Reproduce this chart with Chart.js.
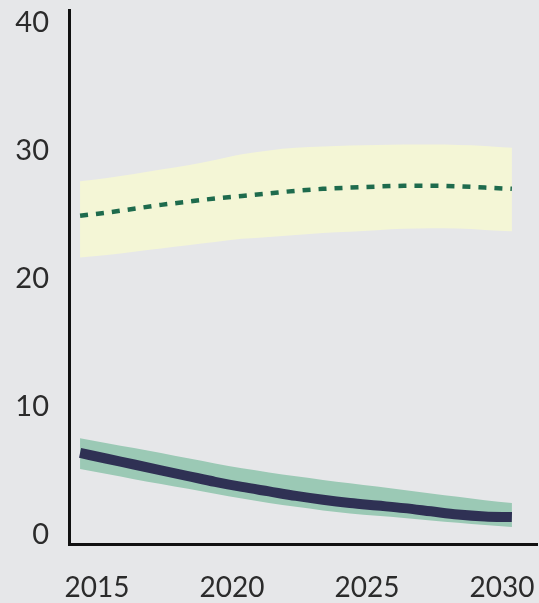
<!DOCTYPE html>
<html>
<head>
<meta charset="utf-8">
<script src="https://cdn.jsdelivr.net/npm/chart.js@4.4.1/dist/chart.umd.min.js"></script>
<style>
  html, body { margin: 0; padding: 0; background: #e6e7e9; }
  #wrap { width: 539px; height: 603px; }
</style>
</head>
<body>
<div id="wrap"><canvas id="c" width="539" height="603"></canvas></div>
<script>
// Years covered by the projection
const years = [2014, 2015, 2016, 2017, 2018, 2019, 2020, 2021, 2022,
               2023, 2024, 2025, 2026, 2027, 2028, 2029, 2030];

// Upper series: central estimate with its uncertainty range
const upperCentral = [24.9, 25.15, 25.45, 25.75, 26.0, 26.25, 26.45, 26.65, 26.85,
                      27.0, 27.1, 27.18, 27.24, 27.25, 27.2, 27.1, 27.0];
const upperHigh = [27.6, 27.85, 28.15, 28.5, 28.85, 29.25, 29.7, 30.0, 30.2,
                   30.3, 30.38, 30.42, 30.45, 30.45, 30.42, 30.35, 30.2];
const upperLow = [21.65, 21.85, 22.1, 22.35, 22.6, 22.85, 23.1, 23.25, 23.4,
                  23.55, 23.65, 23.78, 23.88, 23.93, 23.9, 23.8, 23.7];

// Lower series: central estimate with its uncertainty range
const lowerCentral = [6.4, 5.95, 5.5, 5.05, 4.6, 4.15, 3.75, 3.4, 3.05,
                      2.75, 2.5, 2.3, 2.1, 1.85, 1.6, 1.45, 1.4];
const lowerHigh = [7.55, 7.15, 6.78, 6.4, 5.98, 5.58, 5.2, 4.88, 4.58,
                   4.3, 4.04, 3.78, 3.52, 3.24, 2.98, 2.72, 2.5];
const lowerLow = [5.15, 4.75, 4.36, 3.98, 3.6, 3.22, 2.84, 2.5, 2.2,
                  1.92, 1.68, 1.5, 1.33, 1.14, 0.96, 0.78, 0.62];

// Axis tick labels
const xTicks = [2015, 2020, 2025, 2030];
const yTicks = [0, 10, 20, 30, 40];

const pts = arr => arr.map((v, i) => ({ x: years[i], y: v }));

const FONT = "Lato, 'Open Sans', sans-serif";

const smooth = { pointRadius: 0, cubicInterpolationMode: 'monotone' };

// Bands carry a higher "order" so the central lines are painted over them
new Chart(document.getElementById('c'), {
  type: 'line',
  data: {
    datasets: [
      { ...smooth, data: pts(upperHigh), order: 10, borderWidth: 0,
        backgroundColor: '#f4f6d6', fill: '+1' },
      { ...smooth, data: pts(upperLow), order: 11, borderWidth: 0,
        backgroundColor: 'transparent', fill: false },
      { ...smooth, data: pts(upperCentral), order: 1, borderColor: '#1e6b4d', borderWidth: 4.5,
        borderDash: [8, 8], fill: false },
      { ...smooth, data: pts(lowerHigh), order: 10, borderWidth: 0,
        backgroundColor: '#9bc9b5', fill: '+1' },
      { ...smooth, data: pts(lowerLow), order: 11, borderWidth: 0,
        backgroundColor: 'transparent', fill: false },
      { ...smooth, data: pts(lowerCentral), order: 1, borderColor: '#2f3154', borderWidth: 10,
        borderCapStyle: 'butt', fill: false }
    ]
  },
  options: {
    responsive: false,
    animation: false,
    layout: { padding: { top: 10, right: 2, left: 0, bottom: 0 } },
    plugins: { legend: { display: false }, tooltip: { enabled: false } },
    scales: {
      x: {
        type: 'linear',
        min: 2013.59,
        max: 2030.93,
        grid: { display: false, drawTicks: false },
        border: { display: true, color: '#111111', width: 3 },
        afterBuildTicks: s => { s.ticks = xTicks.map(v => ({ value: v })); },
        afterFit: s => { s.height = 59; s.paddingLeft = 0; s.paddingRight = 0; },
        ticks: {
          padding: 27,
          labelOffset: -10,
          color: '#2b2b2b',
          font: { family: FONT, size: 28 },
          callback: v => String(v),
          maxRotation: 0
        }
      },
      y: {
        min: -0.7,
        max: 40.95,
        grid: { display: false, drawTicks: false },
        border: { display: true, color: '#111111', width: 3 },
        afterBuildTicks: s => { s.ticks = yTicks.map(v => ({ value: v })); },
        afterFit: s => { s.width = 69; s.paddingTop = 0; s.paddingBottom = 0; },
        ticks: {
          padding: 20,
          color: '#2b2b2b',
          font: { family: FONT, size: 29 },
          callback: v => String(v)
        }
      }
    }
  }
});
</script>
</body>
</html>
